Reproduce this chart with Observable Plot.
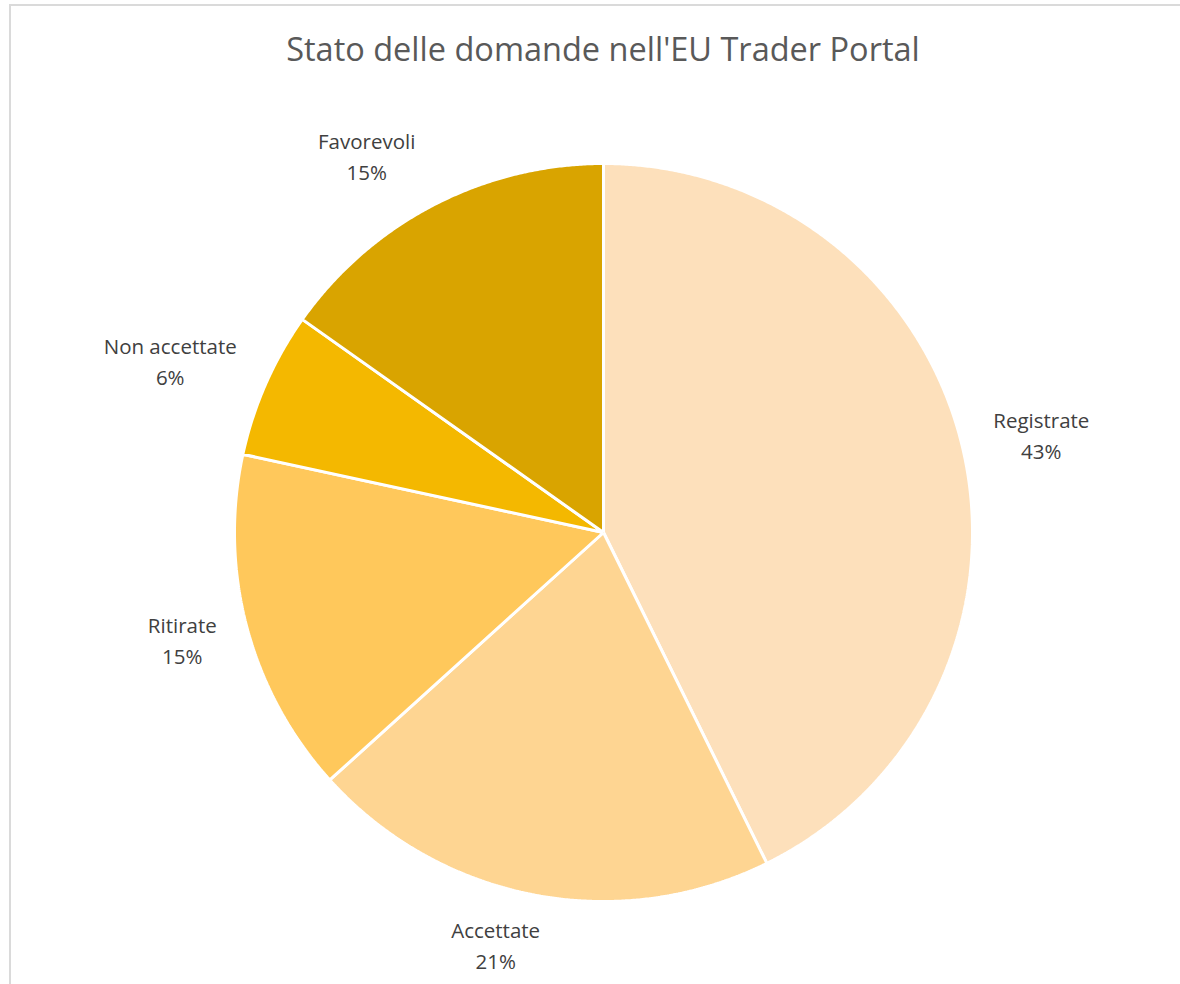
<!DOCTYPE html>
<html>
<head>
<meta charset="utf-8">
<script src="https://cdn.jsdelivr.net/npm/d3@7"></script>
<script src="https://cdn.jsdelivr.net/npm/@observablehq/plot@0.6"></script>
<style>
  html, body { margin: 0; padding: 0; background: #fff; overflow: hidden; width: 1180px; height: 984px; }
  #frame { position: absolute; left: 9px; top: 4px; width: 1200px; height: 1000px;
           border-left: 2px solid #dadada; border-top: 2px solid #dadada; }
  #title { position: absolute; left: 13px; top: 33px; width: 1180px; text-align: center;
           font-family: "Open Sans", sans-serif; font-size: 32.5px; line-height: 1; color: #595959; }
  #chart { position: absolute; left: 0; top: 90px; }
</style>
</head>
<body>
<div id="frame"></div>
<div id="title">Stato delle domande nell'EU Trader Portal</div>
<div id="chart"></div>
<script>
const categories = ["Registrate", "Accettate", "Ritirate", "Non accettate", "Favorevoli"];
const values = [42.7, 20.6, 15.1, 6.4, 15.2];
const colors = ["#FDE0BB", "#FED592", "#FFC85B", "#F4B800", "#D9A400"];

const W = 1180, H = 894, CX = 603, CY = 442, R = 369;
const total = d3.sum(values);
const arcs = d3.pie().sort(null).value(d => d)(values);

// slice outlines in unit-circle coordinates (angle 0 = 12 o'clock, clockwise)
const slicePts = [];
arcs.forEach((a, i) => {
  const cat = categories[i];
  slicePts.push({cat, x: 0, y: 0});
  const n = Math.max(2, Math.ceil((a.endAngle - a.startAngle) / 0.005));
  for (let k = 0; k <= n; k++) {
    const t = a.startAngle + (a.endAngle - a.startAngle) * k / n;
    slicePts.push({cat, x: Math.sin(t), y: Math.cos(t)});
  }
  slicePts.push({cat, x: 0, y: 0});
});

// label placement (outside end)
const labelSize = 20.5;
const ctx = document.createElement("canvas").getContext("2d");
ctx.font = labelSize + 'px "Open Sans"';
const boxH = 60;
const labelData = arcs.map((a, i) => {
  const m = (a.startAngle + a.endAngle) / 2;
  const s = Math.sin(m), c = Math.cos(m);
  const w = ctx.measureText(categories[i]).width + 16;
  const kx = Math.max(-1, Math.min(1, 3.5 * s));
  const ky = c;
  const rr = 392 / R;
  return {
    x: rr * s + kx * w / 2 / R,
    y: rr * c + ky * boxH / 2 / R,
    text: categories[i] + "\n" + Math.round(values[i] / total * 100) + "%"
  };
});

const chart = Plot.plot({
  width: W,
  height: H,
  margin: 0,
  x: {domain: [-1, 1], range: [CX - R, CX + R], axis: null},
  y: {domain: [-1, 1], range: [CY + R, CY - R], axis: null},
  color: {domain: categories, range: colors},
  style: {background: "transparent", overflow: "visible"},
  marks: [
    Plot.line(slicePts, {x: "x", y: "y", z: "cat", fill: "cat", stroke: "#ffffff",
      strokeWidth: 3, strokeLinejoin: "miter", strokeLinecap: "butt", curve: "linear"}),
    Plot.text(labelData, {x: "x", y: "y", dy: -3, text: "text", fill: "#404040",
      fontSize: labelSize, fontFamily: "Open Sans", lineHeight: 1.51, lineAnchor: "middle", textAnchor: "middle"})
  ]
});
document.getElementById("chart").appendChild(chart);
</script>
</body>
</html>
